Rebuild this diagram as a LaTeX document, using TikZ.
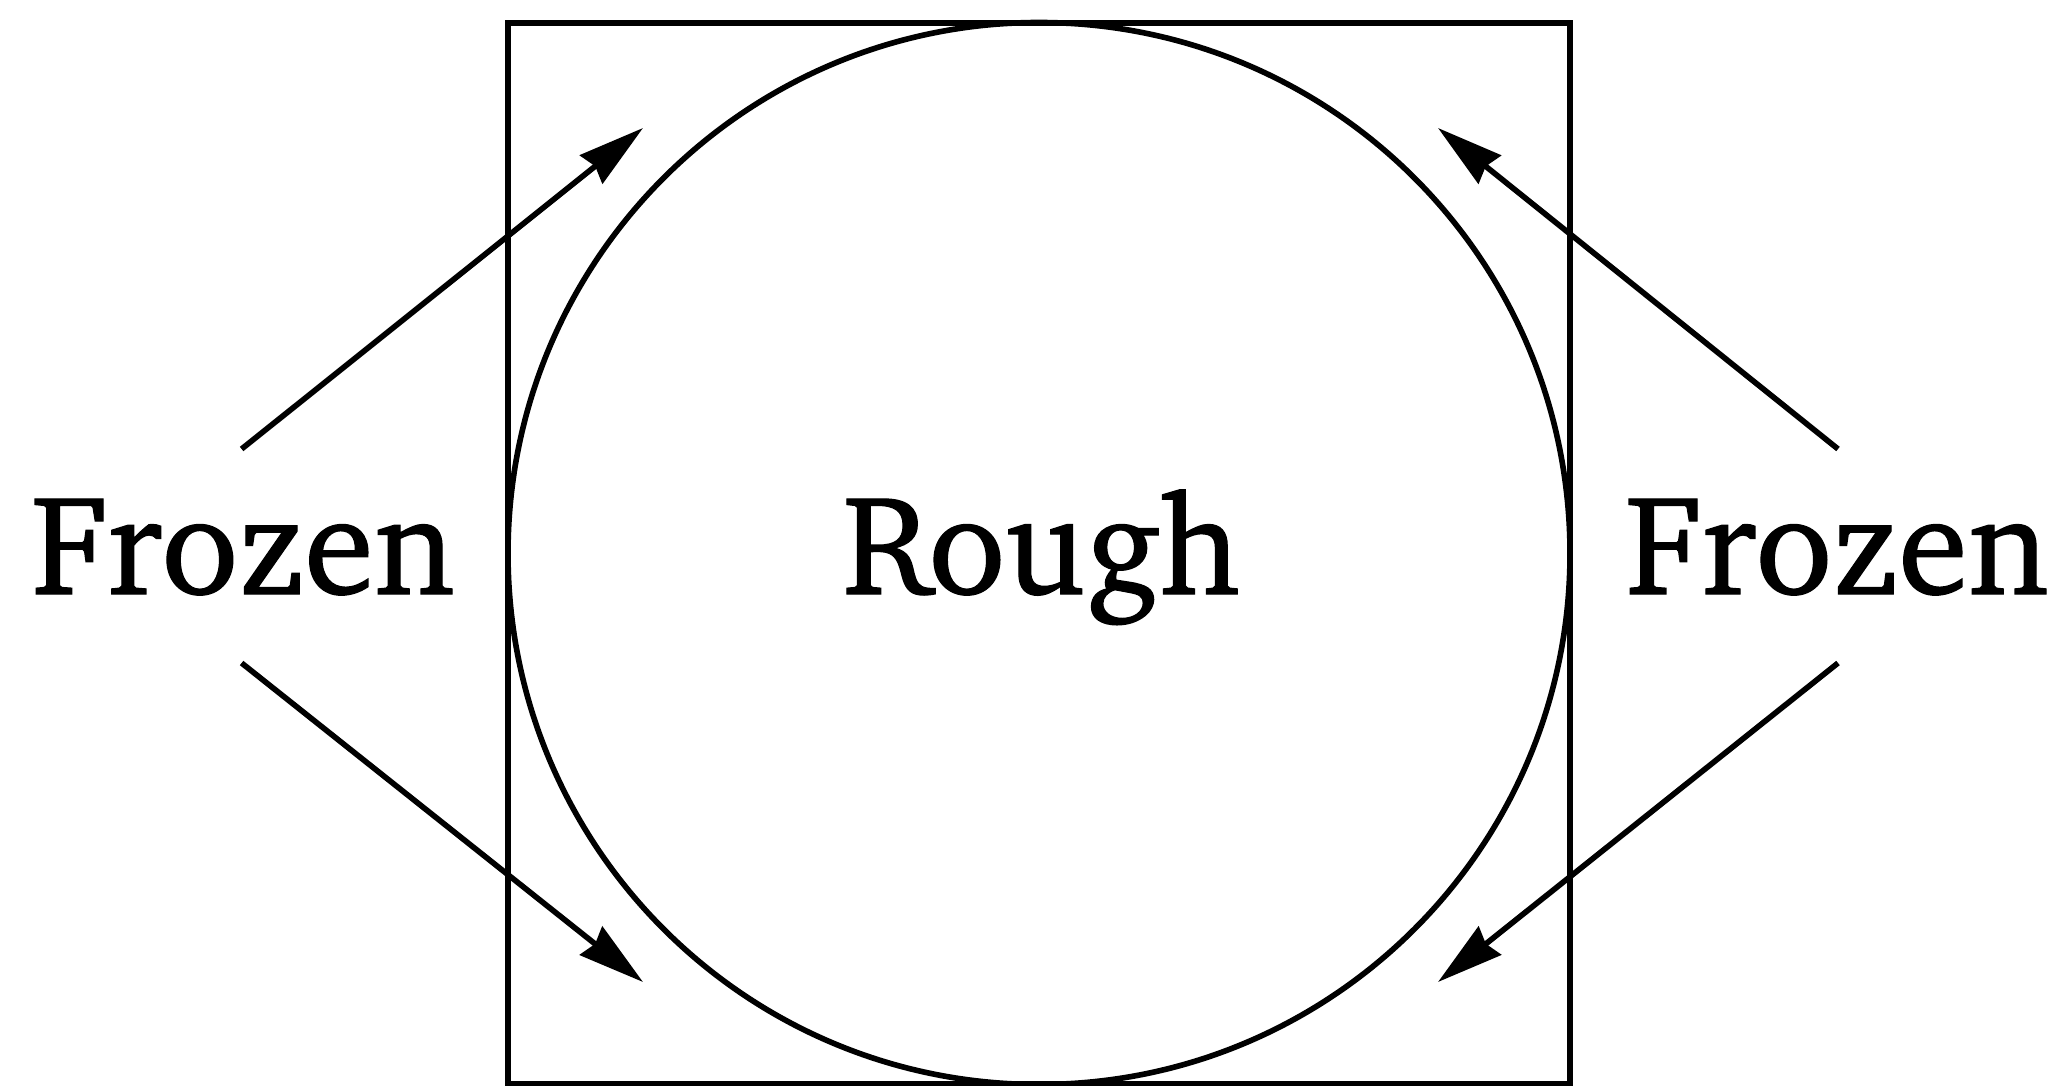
\documentclass[tikz,border=0pt]{standalone}
\usepackage[T1]{fontenc}
\usepackage{charter}
\usetikzlibrary{arrows.meta}
\newcommand{\heavytxt}[1]{\special{pdf:literal direct 2 Tr 0.35 w}#1\special{pdf:literal direct 0 Tr}}
\tikzset{
  lbl/.style={anchor=base, inner sep=0pt, font=\fontsize{40.3}{48}\selectfont},
  arr/.style={line width=1.6pt, -{Stealth[length=18.8pt, width=10.2pt, inset=1.4pt]}},
  shp/.style={line width=1.6pt}
}
\begin{document}
\begin{tikzpicture}[x=0.01cm, y=-0.01cm]
\useasboundingbox (0,0) rectangle (2070,1085);
\draw[shp] (508,23) rectangle (1570,1084);
\draw[shp] (1039,553.5) circle[radius=531];
\node[lbl] (fl) at (243,594) {\heavytxt{Frozen}};
\node[lbl] (r) at (1041,594) {\heavytxt{Rough}};
\node[lbl] (fr) at (1837,594) {\heavytxt{Frozen}};
\coordinate (a1s) at (241.6,449); \coordinate (a1e) at (643,128);
\coordinate (a2s) at (241.6,663); \coordinate (a2e) at (643,982);
\coordinate (a3s) at (1838,449); \coordinate (a3e) at (1438,128);
\coordinate (a4s) at (1838,663); \coordinate (a4e) at (1438,982);
\draw[arr] (a1s) -- (a1e);
\draw[arr] (a2s) -- (a2e);
\draw[arr] (a3s) -- (a3e);
\draw[arr] (a4s) -- (a4e);
\end{tikzpicture}
\end{document}
